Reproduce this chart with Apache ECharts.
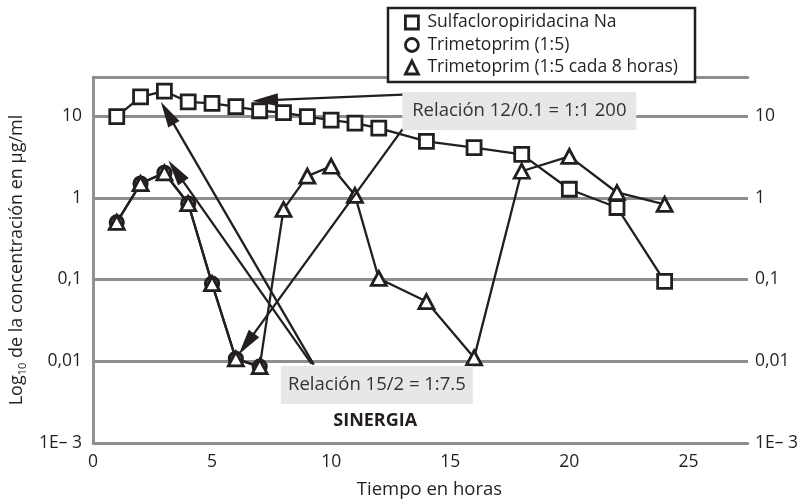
<!DOCTYPE html>
<html><head><meta charset="utf-8">
<script src="https://cdn.jsdelivr.net/npm/echarts@6/dist/echarts.min.js"></script>
<style>html,body{margin:0;padding:0;background:#fff}#c{width:805px;height:504px}</style>
</head><body><div id="c"></div>
<script>
const FONT = '"Open Sans", "Noto Sans", sans-serif';
const INK = '#231f20';
const GRID = '#8e8e8e';

// ---- data ----
const seriesNames = ['Sulfacloropiridacina Na', 'Trimetoprim (1:5)', 'Trimetoprim (1:5 cada 8 horas)'];
const sulfaHours = [1, 2, 3, 4, 5, 6, 7, 8, 9, 10, 11, 12, 14, 16, 18, 20, 22, 24];
const sulfaConc  = [9.8, 17.1, 20.1, 14.9, 14.3, 13.0, 11.6, 11.0, 9.8, 8.9, 8.2, 7.1, 4.9, 4.1, 3.4, 1.27, 0.76, 0.095];
const trimHours  = [1, 2, 3, 4, 5, 6, 7];
const trimConc   = [0.5, 1.49, 2.02, 0.85, 0.089, 0.0107, 0.0086];
const trim8Hours = [1, 2, 3, 4, 5, 6, 7, 8, 9, 10, 11, 12, 14, 16, 18, 20, 22, 24];
const trim8Conc  = [0.5, 1.49, 2.02, 0.85, 0.089, 0.0107, 0.0086, 0.72, 1.84, 2.43, 1.07, 0.103, 0.0537, 0.011, 2.11, 3.21, 1.16, 0.83];
const xTickLabels = ['0', '5', '10', '15', '20', '25'];
const yTickExps   = [-3, -2, -1, 0, 1];
const yTickLabels = ['1E\u2013 3', '0,01', '0,1', '1', '10'];

// annotations (data coordinates: [hours, concentration])
const noteTexts = ['Relaci\u00f3n 12/0.1 = 1:1 200', 'Relaci\u00f3n 15/2 = 1:7.5'];
const noteAnchors = [[17.9, 11.5], [11.92, 0.00512]];
const noteSizes = [[234, 38], [192, 38]];
const arrowFrom = [[13.02, 18.3], [13.0, 6.9], [9.27, 0.0091], [9.18, 0.0093]];
const arrowTo   = [[6.68, 15.3], [6.12, 0.0121], [2.85, 14.9], [3.17, 2.85]];
const synergyText = 'SINERGIA';
const synergyAnchor = [11.85, 0.00188];

const chart = echarts.init(document.getElementById('c'), null, {renderer: 'canvas'});

function yLabel(v) {
  const e = Math.log10(v);
  const r = Math.round(e);
  if (Math.abs(e - r) > 1e-6) return '';
  const i = yTickExps.indexOf(r);
  return i < 0 ? '' : yTickLabels[i];
}
function xLabel(v) {
  const i = xTickLabels.indexOf(String(v));
  return i < 0 ? '' : xTickLabels[i];
}
const pairs = (xs, ys) => xs.map((x, i) => [x, ys[i]]);

const markerStyle = {color: '#fff', borderColor: INK, borderWidth: 2.8};
const lineStyle = {color: INK, width: 2.3};

const yAxisBase = {
  type: 'log', logBase: 10, min: 0.001, max: 30,
  axisLine: {show: true, lineStyle: {color: GRID, width: 2.5}},
  axisTick: {show: false},
  axisLabel: {formatter: yLabel, fontFamily: FONT, fontSize: 17.5, color: INK}
};

chart.setOption({
  animation: false,
  grid: {left: 91, right: 57, top: 77, bottom: 58},
  legend: {
    orient: 'vertical', left: 404, top: 13, padding: 0,
    itemWidth: 13, itemHeight: 13, itemGap: 3.5,
    selectedMode: false,
    data: [
      {name: seriesNames[0], icon: 'rect'},
      {name: seriesNames[1], icon: 'circle'},
      {name: seriesNames[2], icon: 'triangle'}
    ],
    itemStyle: {color: '#fff', borderColor: INK, borderWidth: 2.8},
    textStyle: {fontFamily: FONT, fontSize: 17.5, color: INK, lineHeight: 19, padding: [0, 0, 0, 4]}
  },
  xAxis: [{
    type: 'value', min: 0, max: 27.5, interval: 5,
    axisLine: {show: true, onZero: false, lineStyle: {color: GRID, width: 2.5}},
    axisTick: {show: false}, splitLine: {show: false},
    axisLabel: {formatter: xLabel, fontFamily: FONT, fontSize: 17.5, color: INK, margin: 10},
    name: 'Tiempo en horas', nameLocation: 'middle', nameGap: 37,
    nameTextStyle: {fontFamily: FONT, fontSize: 18.5, color: INK, padding: [0, 0, 0, 18]}
  }, {
    type: 'value', position: 'top', min: 0, max: 27.5, interval: 5,
    axisLine: {show: true, onZero: false, lineStyle: {color: GRID, width: 2.5}},
    axisTick: {show: false}, splitLine: {show: false}, axisLabel: {show: false}
  }],
  yAxis: [Object.assign({}, yAxisBase, {
    position: 'left',
    splitLine: {show: true, lineStyle: {color: GRID, width: 3}},
    axisLabel: Object.assign({}, yAxisBase.axisLabel, {margin: 11}),
    name: '{a|Log}{b|10}{a| de la concentraci\u00f3n en \u00b5g/ml}',
    nameLocation: 'middle', nameRotate: 90, nameGap: 60,
    nameTextStyle: {
      rich: {
        a: {fontFamily: FONT, fontSize: 18, color: INK, lineHeight: 22, verticalAlign: 'middle'},
        b: {fontFamily: FONT, fontSize: 11, color: INK, lineHeight: 12, verticalAlign: 'bottom'}
      }
    }
  }), Object.assign({}, yAxisBase, {
    position: 'right',
    splitLine: {show: false},
    axisLabel: Object.assign({}, yAxisBase.axisLabel, {margin: 7})
  })],
  series: [{
    name: seriesNames[0], type: 'line', data: pairs(sulfaHours, sulfaConc),
    symbol: 'rect', symbolSize: 14, itemStyle: markerStyle, lineStyle: lineStyle,
    emphasis: {disabled: true}, z: 2
  }, {
    name: seriesNames[1], type: 'line', data: pairs(trimHours, trimConc),
    symbol: 'circle', symbolSize: 13, itemStyle: {color: '#fff', borderColor: INK, borderWidth: 3.2}, lineStyle: lineStyle,
    emphasis: {disabled: true}, z: 3
  }, {
    name: seriesNames[2], type: 'line', data: pairs(trim8Hours, trim8Conc),
    symbol: 'triangle', symbolSize: [15, 14], itemStyle: markerStyle, lineStyle: lineStyle,
    emphasis: {disabled: true}, z: 4
  }]
});

// ---- annotations placed through the chart's own coordinate system ----
function px(p) { return chart.convertToPixel({xAxisIndex: 0, yAxisIndex: 0}, p); }
const HEAD_LEN = 26, HEAD_HALF = 6.5;
const els = [];
els.push({type: 'rect', z: 3, shape: {x: 388, y: 8, width: 307, height: 74},
  style: {fill: '#fff', stroke: INK, lineWidth: 2.5}});
for (let i = 0; i < arrowFrom.length; i++) {
  const a = px(arrowFrom[i]), b = px(arrowTo[i]);
  const dx = b[0] - a[0], dy = b[1] - a[1];
  const L = Math.hypot(dx, dy), ux = dx / L, uy = dy / L;
  const bx = b[0] - ux * HEAD_LEN, by = b[1] - uy * HEAD_LEN;
  els.push({type: 'line', z: 5, shape: {x1: a[0], y1: a[1], x2: bx + ux * 2, y2: by + uy * 2},
    style: {stroke: INK, lineWidth: 2.3}});
  els.push({type: 'polygon', z: 5, shape: {points: [[b[0], b[1]],
    [bx - uy * HEAD_HALF, by + ux * HEAD_HALF], [bx + uy * HEAD_HALF, by - ux * HEAD_HALF]]},
    style: {fill: INK}});
}
for (let i = 0; i < noteTexts.length; i++) {
  const c = px(noteAnchors[i]), s = noteSizes[i];
  els.push({type: 'rect', z: 6, shape: {x: c[0] - s[0] / 2, y: c[1] - s[1] / 2, width: s[0], height: s[1]},
    style: {fill: '#e6e7e8'}});
  els.push({type: 'text', z: 7, x: c[0], y: c[1],
    style: {text: noteTexts[i], fill: '#333', font: '18.5px ' + FONT, align: 'center', verticalAlign: 'middle'}});
}
const sc = px(synergyAnchor);
els.push({type: 'text', z: 7, x: sc[0], y: sc[1],
  style: {text: synergyText, fill: INK, font: 'bold 18px ' + FONT, align: 'center', verticalAlign: 'middle'}});
chart.setOption({graphic: {elements: els}});
</script>
</body></html>
